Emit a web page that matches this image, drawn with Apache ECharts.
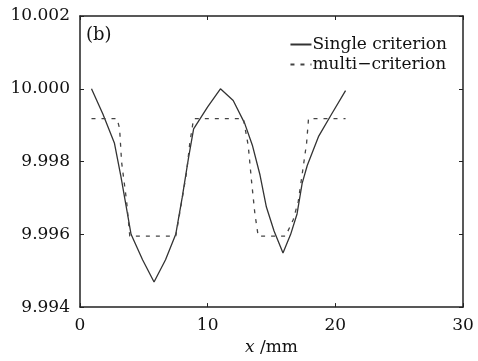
<!DOCTYPE html>
<html>
<head>
<meta charset="utf-8">
<script src="https://cdn.jsdelivr.net/npm/echarts@6/dist/echarts.min.js"></script>
<style>
  html, body { margin: 0; padding: 0; background: #fff; }
  #chart { width: 478px; height: 361px; }
</style>
</head>
<body>
<div id="chart"></div>
<script>
// x positions (mm) and values
const singleX = [0.9, 1.8, 2.7, 3.2, 3.6, 4.0, 4.9, 5.8, 6.7, 7.5, 8.0, 8.5, 8.9, 10.0, 11.0, 12.0, 12.9, 13.5, 14.1, 14.6, 15.2, 15.9, 16.5, 17.0, 17.4, 17.8, 18.7, 19.7, 20.8]
const singleY = [10.0000, 9.9993, 9.9985, 9.9976, 9.9968, 9.9960, 9.9953, 9.99469, 9.9953, 9.9960, 9.9970, 9.9981, 9.9989, 9.9995, 10.0000, 9.99968, 9.99905, 9.99845, 9.99763, 9.99675, 9.99609, 9.99549, 9.9960, 9.99656, 9.9974, 9.99789, 9.9987, 9.9993, 9.99995]

const multiX = [0.9, 2.9, 3.1, 3.26, 3.65, 3.9, 7.5, 7.8, 8.1, 8.35, 8.6, 8.9, 12.8, 13.18, 13.44, 13.7, 13.96, 16.1, 16.7, 17.1, 17.5, 17.75, 17.9, 20.8]
const multiY = [9.99918, 9.99918, 9.99891, 9.99798, 9.99691, 9.99595, 9.99595, 9.99656, 9.99718, 9.99771, 9.99851, 9.99918, 9.99918, 9.99843, 9.99745, 9.99656, 9.99595, 9.99595, 9.99640, 9.99691, 9.99789, 9.99851, 9.99918, 9.99918]

const xTicks = [0, 10, 20, 30]
const yTicks = [9.994, 9.996, 9.998, 10.000, 10.002]

const pair = (xs, ys) => xs.map((x, i) => [x, ys[i]])
const font = 'DejaVu Serif'
const ink = '#222'

var myChart = echarts.init(document.getElementById('chart'))

const axisLine = { show: true, onZero: false, lineStyle: { color: ink, width: 1.5 } }
const axisTick = { show: true, inside: true, length: 4, lineStyle: { color: ink, width: 1 } }

myChart.setOption({
    animation: false,
    backgroundColor: '#fff',
    textStyle: { fontFamily: font, color: '#111' },
    grid: { left: 80, right: 15, top: 16, bottom: 45 },
    legend: {
        orient: 'vertical',
        right: 26,
        top: 31,
        itemWidth: 21,
        itemHeight: 12,
        itemGap: 3,
        itemStyle: { opacity: 0 },
        textStyle: { fontFamily: font, fontSize: 17, color: '#111', padding: [0, 0, 0, -4] },
        data: ['Single criterion', 'multi\u2212criterion']
    },
    graphic: [{
        type: 'text',
        left: 86,
        top: 26,
        style: { text: '(b)', font: '18px "DejaVu Serif"', fill: '#111' }
    }],
    xAxis: [{
        type: 'value',
        min: 0, max: 30, interval: 10,
        axisLine, axisTick,
        splitLine: { show: false },
        axisLabel: { fontFamily: font, fontSize: 17, color: '#111', margin: 10,
            formatter: v => xTicks.includes(v) ? String(v) : '' },
        name: '{i|x} /mm',
        nameLocation: 'middle',
        nameGap: 24,
        nameTextStyle: {
            fontFamily: font, fontSize: 17, color: '#111',
            rich: { i: { fontFamily: font, fontStyle: 'italic', fontSize: 17, color: '#111' } }
        }
    }, {
        type: 'value', position: 'top',
        min: 0, max: 30, interval: 10,
        axisLine, axisTick,
        axisLabel: { show: false }, splitLine: { show: false }
    }],
    yAxis: [{
        type: 'value',
        min: 9.994, max: 10.002, interval: 0.002,
        axisLine, axisTick,
        splitLine: { show: false },
        axisLabel: { fontFamily: font, fontSize: 17, color: '#111', margin: 10,
            formatter: v => v.toFixed(3) }
    }, {
        type: 'value', position: 'right',
        min: 9.994, max: 10.002, interval: 0.002,
        axisLine, axisTick,
        axisLabel: { show: false }, splitLine: { show: false }
    }],
    series: [{
        name: 'Single criterion',
        type: 'line',
        data: pair(singleX, singleY),
        symbol: 'none',
        itemStyle: { color: '#333' },
        lineStyle: { color: '#333', width: 1.3 }
    }, {
        name: 'multi\u2212criterion',
        type: 'line',
        data: pair(multiX, multiY),
        symbol: 'none',
        itemStyle: { color: '#444' },
        lineStyle: { color: '#444', width: 1.3, type: [4, 6] }
    }]
})
</script>
</body>
</html>
